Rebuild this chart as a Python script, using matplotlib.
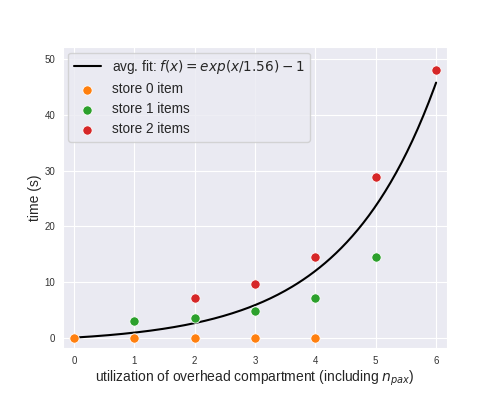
import numpy as np
import matplotlib
matplotlib.use("Agg")
import matplotlib.pyplot as plt
import seaborn as sns

sns.set_style("darkgrid")
plt.rcParams['font.family'] = ['Liberation Sans', 'DejaVu Sans']
plt.rcParams['mathtext.fontset'] = 'dejavusans'

# data
x0 = [0, 1, 2, 3, 4]
y0 = [0, 0, 0, 0, 0]
x1 = [1, 2, 3, 4, 5]
y1 = [2.9, 3.6, 4.8, 7.2, 14.4]
x2 = [2, 3, 4, 5, 6]
y2 = [7.2, 9.6, 14.4, 28.8, 48.0]
tau = 1.56

fig = plt.figure(figsize=(4.98, 3.99), dpi=100)
ax = fig.add_axes([0.1265, 0.128, 0.771, 0.754])

xf = np.linspace(0, 6, 200)
ax.plot(xf, np.exp(xf / tau) - 1, color="black", lw=1.5,
        label=r"avg. fit: $f(x) = exp(x/1.56) - 1$")
ax.scatter(x0, y0, color="tab:orange", s=45, edgecolor="white", lw=0.6, label="store 0 item", zorder=3)
ax.scatter(x1, y1, color="tab:green", s=45, edgecolor="white", lw=0.6, label="store 1 items", zorder=3)
ax.scatter(x2, y2, color="tab:red", s=45, edgecolor="white", lw=0.6, label="store 2 items", zorder=3)

ax.set_xlim(-0.18, 6.18)
ax.set_ylim(-1.85, 52.2)
ax.set_xticks(range(7))
ax.set_yticks(range(0, 51, 10))
ax.tick_params(labelsize=7, colors="#333333", pad=2)
ax.set_xlabel(r"utilization of overhead compartment (including $n_{pax}$)", fontsize=10, labelpad=2)
ax.set_ylabel("time (s)", fontsize=10, labelpad=2)
ax.legend(loc="upper left", fontsize=9.8, frameon=True, borderaxespad=0.4, labelspacing=0.45)

fig.savefig("out.png", dpi=100)
